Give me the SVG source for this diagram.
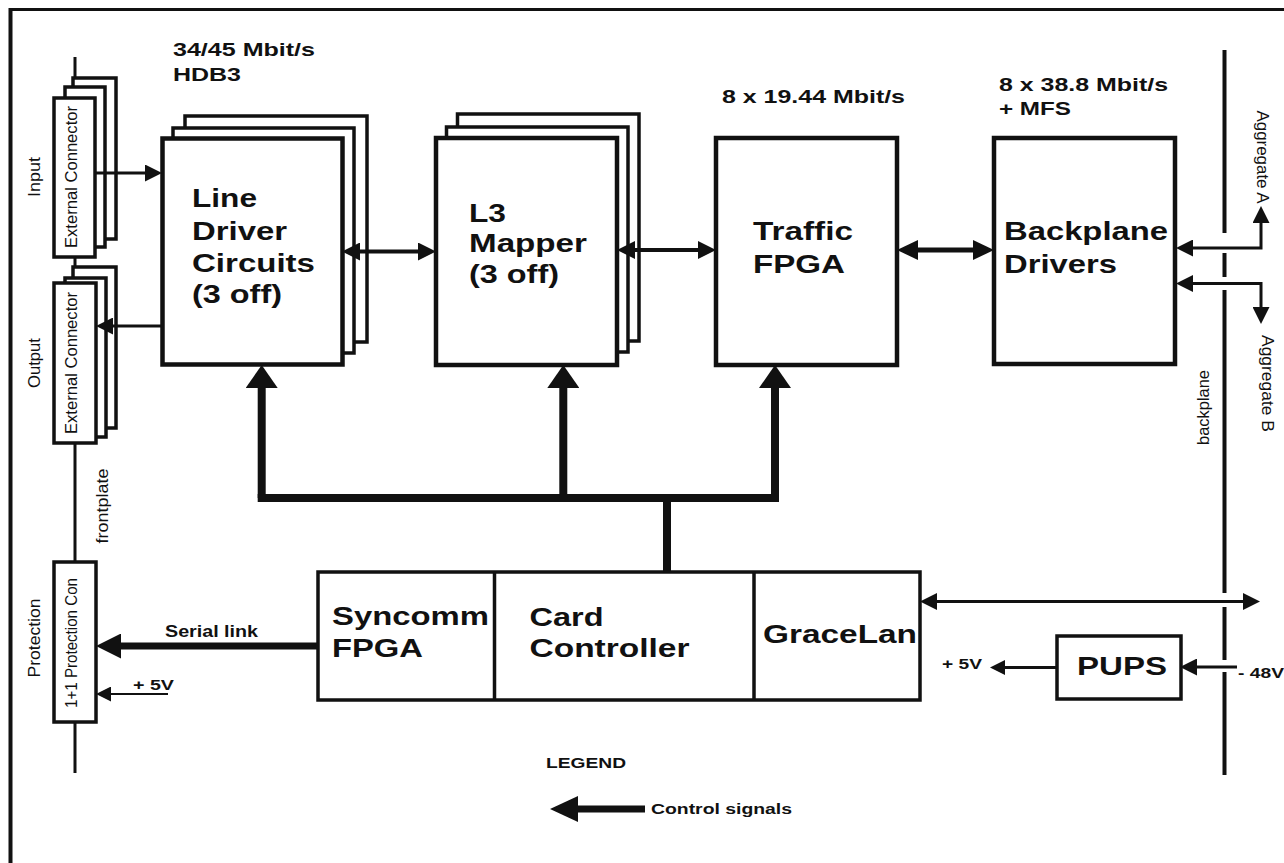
<svg xmlns="http://www.w3.org/2000/svg" width="1284" height="863" viewBox="0 0 1284 863">
<style>
  .bg{fill:#fff}
  .box{fill:#fff;stroke:#111;stroke-width:3.5}
  .boxf{fill:#fff;stroke:#111;stroke-width:4.5}
  .ln{fill:none;stroke:#111}
  text{font-family:"Liberation Sans",Arial,Helvetica,sans-serif;fill:#111}
  .big{font-size:26px;font-weight:bold}
  .rate{font-size:19px;font-weight:bold}
  .sm{font-size:16px;font-weight:bold}
  .xs{font-size:14px;font-weight:bold}
  .vt{font-size:17px}
</style>
<defs>
  <marker id="m17" markerUnits="userSpaceOnUse" markerWidth="17" markerHeight="17" viewBox="0 0 17 17" refX="0" refY="8.5" orient="auto-start-reverse"><path d="M0,0 L17,8.5 L0,17 Z" fill="#111"/></marker>
  <marker id="m15" markerUnits="userSpaceOnUse" markerWidth="15" markerHeight="15" viewBox="0 0 15 15" refX="0" refY="7.5" orient="auto-start-reverse"><path d="M0,0 L15,7.5 L0,15 Z" fill="#111"/></marker>
  <marker id="m19" markerUnits="userSpaceOnUse" markerWidth="18" markerHeight="18" viewBox="0 0 18 18" refX="0" refY="9" orient="auto-start-reverse"><path d="M0,0 L18,9 L0,18 Z" fill="#111"/></marker>
  <marker id="m21" markerUnits="userSpaceOnUse" markerWidth="21" markerHeight="20" viewBox="0 0 21 20" refX="0" refY="10" orient="auto-start-reverse"><path d="M0,0 L21,10 L0,20 Z" fill="#111"/></marker>
  <marker id="mbus" markerUnits="userSpaceOnUse" markerWidth="23" markerHeight="32" viewBox="0 0 23 32" refX="0" refY="16" orient="auto-start-reverse"><path d="M0,0 L23,16 L0,32 Z" fill="#111"/></marker>
  <marker id="m25" markerUnits="userSpaceOnUse" markerWidth="25" markerHeight="25" viewBox="0 0 25 25" refX="0" refY="12.5" orient="auto-start-reverse"><path d="M0,0 L25,12.5 L0,25 Z" fill="#111"/></marker>
  <marker id="m28" markerUnits="userSpaceOnUse" markerWidth="28" markerHeight="26" viewBox="0 0 28 26" refX="0" refY="13" orient="auto-start-reverse"><path d="M0,0 L28,13 L0,26 Z" fill="#111"/></marker>
</defs>
<rect class="bg" x="0" y="0" width="1284" height="863"/>

<g id="frame">
  <path class="ln" stroke-width="3" d="M10,9.5 H1284"/>
  <path class="ln" stroke-width="4" d="M10.5,8 V863"/>
</g>

<g id="frontplate">
  <path class="ln" stroke-width="3" d="M75,57 V98 M75,257 V283 M75,443 V562 M75,722 V773"/>
  <text class="vt" transform="translate(108,506) rotate(-90)" x="-37.5" y="0" textLength="75" lengthAdjust="spacingAndGlyphs">frontplate</text>
</g>

<g id="backplane">
  <path class="ln" stroke-width="4" d="M1224.5,50 V233 M1224.5,253 V277 M1224.5,290 V593 M1224.5,607 V660 M1224.5,672 V775"/>
  <text class="vt" transform="translate(1209,407.5) rotate(-90)" x="-37.5" y="0" textLength="75" lengthAdjust="spacingAndGlyphs">backplane</text>
</g>

<g id="input-connector">
  <rect class="box" x="73" y="78" width="43" height="161"/>
  <rect class="box" x="65" y="87" width="40" height="160"/>
  <rect class="box" x="54" y="98" width="41" height="159"/>
  <text class="vt" transform="translate(77,177) rotate(-90)" x="-71" y="0" textLength="142" lengthAdjust="spacingAndGlyphs">External Connector</text>
  <text class="vt" transform="translate(39.5,177) rotate(-90)" x="-20" y="0" textLength="40" lengthAdjust="spacingAndGlyphs">Input</text>
</g>

<g id="output-connector">
  <rect class="box" x="73" y="267" width="43" height="161"/>
  <rect class="box" x="65" y="278" width="41" height="159"/>
  <rect class="box" x="54" y="283" width="42" height="160"/>
  <text class="vt" transform="translate(77,363) rotate(-90)" x="-71" y="0" textLength="142" lengthAdjust="spacingAndGlyphs">External Connector</text>
  <text class="vt" transform="translate(39.5,363) rotate(-90)" x="-25" y="0" textLength="50" lengthAdjust="spacingAndGlyphs">Output</text>
</g>

<g id="protection-connector">
  <rect class="box" x="54" y="562" width="42" height="160"/>
  <text class="vt" transform="translate(77,643) rotate(-90)" x="-65" y="0" textLength="130" lengthAdjust="spacingAndGlyphs">1+1 Protection Con</text>
  <text class="vt" transform="translate(39.5,638) rotate(-90)" x="-39.5" y="0" textLength="79" lengthAdjust="spacingAndGlyphs">Protection</text>
</g>

<g id="line-driver">
  <rect class="box" x="185" y="116" width="182" height="226"/>
  <rect class="box" x="173" y="128" width="181" height="225"/>
  <rect class="boxf" x="162.5" y="138.5" width="180" height="226"/>
  <text class="big" x="192" y="207" textLength="65" lengthAdjust="spacingAndGlyphs">Line</text>
  <text class="big" x="192" y="240" textLength="95" lengthAdjust="spacingAndGlyphs">Driver</text>
  <text class="big" x="192" y="272" textLength="123" lengthAdjust="spacingAndGlyphs">Circuits</text>
  <text class="big" x="192" y="303" textLength="90" lengthAdjust="spacingAndGlyphs">(3 off)</text>
</g>

<g id="l3-mapper">
  <rect class="box" x="457.5" y="114" width="181.5" height="227"/>
  <rect class="box" x="446.5" y="127" width="181.5" height="225"/>
  <rect class="boxf" x="436" y="138" width="181" height="227"/>
  <text class="big" x="469" y="222" textLength="37" lengthAdjust="spacingAndGlyphs">L3</text>
  <text class="big" x="469" y="252" textLength="118" lengthAdjust="spacingAndGlyphs">Mapper</text>
  <text class="big" x="469" y="283" textLength="90" lengthAdjust="spacingAndGlyphs">(3 off)</text>
</g>

<g id="traffic-fpga">
  <rect class="boxf" x="716" y="138" width="181" height="227"/>
  <text class="big" x="753" y="240" textLength="100" lengthAdjust="spacingAndGlyphs">Traffic</text>
  <text class="big" x="753" y="273" textLength="92" lengthAdjust="spacingAndGlyphs">FPGA</text>
</g>

<g id="backplane-drivers">
  <rect class="boxf" x="994" y="138" width="181" height="226"/>
  <text class="big" x="1004" y="240" textLength="164" lengthAdjust="spacingAndGlyphs">Backplane</text>
  <text class="big" x="1004" y="273" textLength="113" lengthAdjust="spacingAndGlyphs">Drivers</text>
</g>

<g id="controller-block">
  <rect class="box" x="318" y="572" width="602" height="128"/>
  <path class="ln" stroke-width="3.5" d="M494.5,572 V700 M754,572 V700"/>
  <g id="syncomm-fpga">
    <text class="big" x="332" y="625" textLength="157" lengthAdjust="spacingAndGlyphs">Syncomm</text>
    <text class="big" x="332" y="657" textLength="91" lengthAdjust="spacingAndGlyphs">FPGA</text>
  </g>
  <g id="card-controller">
    <text class="big" x="529.5" y="626" textLength="74" lengthAdjust="spacingAndGlyphs">Card</text>
    <text class="big" x="529.5" y="657" textLength="160" lengthAdjust="spacingAndGlyphs">Controller</text>
  </g>
  <g id="gracelan">
    <text class="big" x="763" y="643" textLength="154" lengthAdjust="spacingAndGlyphs">GraceLan</text>
  </g>
</g>

<g id="pups">
  <rect class="box" x="1057" y="636" width="124" height="63"/>
  <text class="big" x="1077" y="675" textLength="90" lengthAdjust="spacingAndGlyphs">PUPS</text>
</g>

<g id="connectors">
  <path class="ln" stroke-width="3" d="M95,173 H145" marker-end="url(#m17)"/>
  <path class="ln" stroke-width="3" d="M162,326 H113" marker-end="url(#m17)"/>
  <path class="ln" stroke-width="4" d="M360,251.5 H418" marker-start="url(#m19)" marker-end="url(#m19)"/>
  <path class="ln" stroke-width="4" d="M635,250 H698" marker-start="url(#m19)" marker-end="url(#m19)"/>
  <path class="ln" stroke-width="5" d="M918,250 H973" marker-start="url(#m21)" marker-end="url(#m21)"/>
  <path class="ln" stroke-width="3" d="M1193,248 H1261 V223" marker-start="url(#m17)" marker-end="url(#m17)"/>
  <path class="ln" stroke-width="3" d="M1193,283.5 H1261 V307" marker-start="url(#m17)" marker-end="url(#m17)"/>
  <path class="ln" stroke-width="8" d="M667,572 V498 M257.7,498 H779"/>
  <path class="ln" stroke-width="8" d="M261.7,498 V388" marker-end="url(#mbus)"/>
  <path class="ln" stroke-width="8" d="M563.3,498 V388" marker-end="url(#mbus)"/>
  <path class="ln" stroke-width="8" d="M775,498 V388" marker-end="url(#mbus)"/>
  <path class="ln" stroke-width="7" d="M318,646 H121" marker-end="url(#m25)"/>
  <path class="ln" stroke-width="2" d="M168,694 H111" marker-end="url(#m15)"/>
  <path class="ln" stroke-width="3" d="M937,601.5 H1243" marker-start="url(#m17)" marker-end="url(#m17)"/>
  <path class="ln" stroke-width="3" d="M1057,667.5 H1005" marker-end="url(#m15)"/>
  <path class="ln" stroke-width="3" d="M1237,667 H1197" marker-end="url(#m17)"/>
</g>

<g id="labels">
  <text class="rate" x="173" y="56" textLength="142" lengthAdjust="spacingAndGlyphs">34/45 Mbit/s</text>
  <text class="rate" x="173" y="81" textLength="68" lengthAdjust="spacingAndGlyphs">HDB3</text>
  <text class="rate" x="722" y="103" textLength="183" lengthAdjust="spacingAndGlyphs">8 x 19.44 Mbit/s</text>
  <text class="rate" x="999" y="91" textLength="169" lengthAdjust="spacingAndGlyphs">8 x 38.8 Mbit/s</text>
  <text class="rate" x="999" y="115" textLength="72" lengthAdjust="spacingAndGlyphs">+ MFS</text>
  <text class="vt" transform="translate(1257,157) rotate(90)" x="-46.5" y="0" textLength="93" lengthAdjust="spacingAndGlyphs">Aggregate A</text>
  <text class="vt" transform="translate(1262,383.5) rotate(90)" x="-48.5" y="0" textLength="97" lengthAdjust="spacingAndGlyphs">Aggregate B</text>
  <text class="sm" x="165" y="637" textLength="93" lengthAdjust="spacingAndGlyphs">Serial link</text>
  <text class="xs" x="133" y="690" textLength="41" lengthAdjust="spacingAndGlyphs">+ 5V</text>
  <text class="xs" x="942" y="669" textLength="40" lengthAdjust="spacingAndGlyphs">+ 5V</text>
  <text class="xs" x="1238" y="678" textLength="46" lengthAdjust="spacingAndGlyphs">- 48V</text>
</g>

<g id="legend">
  <text class="xs" x="546" y="768" font-size="15" textLength="80" lengthAdjust="spacingAndGlyphs">LEGEND</text>
  <path class="ln" stroke-width="7" d="M645,809 H578" marker-end="url(#m28)"/>
  <text class="xs" x="651" y="814" textLength="141" lengthAdjust="spacingAndGlyphs">Control signals</text>
</g>
</svg>
